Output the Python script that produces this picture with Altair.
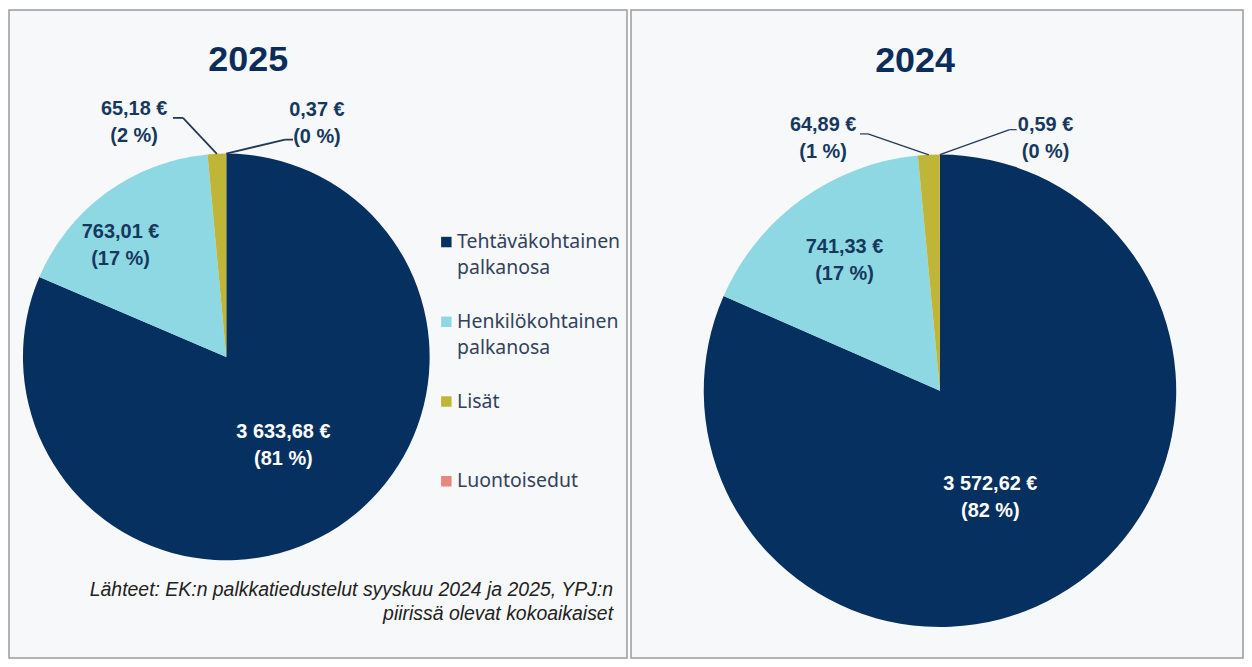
import altair as alt
import pandas as pd

# ---------------- data ----------------
categories = ["Tehtäväkohtainen palkanosa", "Henkilökohtainen palkanosa", "Lisät", "Luontoisedut"]
values_2025 = [3633.68, 763.01, 65.18, 0.37]
values_2024 = [3572.62, 741.33, 64.89, 0.59]
shares_2025 = [81, 17, 2, 0]
shares_2024 = [82, 17, 1, 0]
years = ["2025", "2024"]
source_lines = ["Lähteet: EK:n palkkatiedustelut  syyskuu 2024 ja 2025, YPJ:n",
                "piirissä olevat kokoaikaiset"]

# ---------------- style ----------------
colors = ["#06305f", "#8ed8e3", "#bfb536", "#e8857c"]
NAVY_TXT = "#16385e"
LINE_COL = "#233a56"


def fmt_eur(v):
    s = f"{v:,.2f}"
    return s.replace(",", "X").replace(".", ",").replace("X", " ") + " €"


def make_df(values, shares):
    return pd.DataFrame({
        "cat": categories,
        "idx": list(range(len(categories))),
        "value": values,
        "label": [f"{fmt_eur(v)}\n({s} %)" for v, s in zip(values, shares)],
    })


# label layout per panel (per category): radius fraction, offsets, callout geometry
layout_2025 = dict(w=620, h=650, cx=218, cy=348, r=204, tx=240, ty=50, lw=1.8,
                   rf=[0.51, 0.75, 1.0, 1.0], dx=[0, -16, -83, 91], dy=[-11, -2, -44.5, -44],
                   ex=[0, 0, -34, 59], ey=[0, 0, -36, -14], sx=[0, 0, -44, 67])
layout_2024 = dict(w=614, h=650, cx=310, cy=382, r=237, tx=285, ty=51, lw=1.2,
                   rf=[0.49, 0.69, 1.0, 1.0], dx=[-13, 0, -106, 106], dy=[-4, -12, -29.5, -29.5],
                   ex=[0, 0, -61, 70], ey=[0, 0, -21, -25], sx=[0, 0, -69, 77])


def arr(a):
    return "[" + ",".join(str(x) for x in a) + "][datum.idx]"


def panel(values, shares, year, L, legend):
    df = make_df(values, shares)
    cx, cy, r = L["cx"], L["cy"], L["r"]

    color = alt.Color("cat:N", scale=alt.Scale(domain=categories, range=colors),
                      legend=legend)
    arc = alt.Chart(df).mark_arc(outerRadius=r).encode(
        theta=alt.Theta("value:Q", stack=True),
        color=color,
        order=alt.Order("idx:Q"),
        x=alt.value(cx), y=alt.value(cy),
    )

    geo = alt.Chart(df).transform_joinaggregate(
        total="sum(value)"
    ).transform_window(
        cum="sum(value)", sort=[alt.SortField("idx", order="ascending")], frame=[None, 0]
    ).transform_calculate(
        mid="2*PI*(datum.cum - datum.value/2)/datum.total"
    ).transform_calculate(
        lx=f"{cx} + {arr(L['rf'])}*{r}*sin(datum.mid) + {arr(L['dx'])}",
        ly=f"{cy} - {arr(L['rf'])}*{r}*cos(datum.mid) + {arr(L['dy'])}",
        px=f"{cx} + {r}*sin(datum.mid)",
        py=f"{cy} - {r}*cos(datum.mid)",
    ).transform_calculate(
        bx=f"datum.px + {arr(L['ex'])}",
        by=f"datum.py + {arr(L['ey'])}",
        sx=f"datum.px + {arr(L['sx'])}",
    )

    X = lambda f: alt.X(f, scale=None, axis=None)
    Y = lambda f: alt.Y(f, scale=None, axis=None)

    txt_props = dict(lineBreak="\n", font="Liberation Sans", fontSize=20,
                     fontWeight="bold", lineHeight=27, align="center", baseline="middle")
    inner_white = geo.transform_filter("datum.idx == 0").mark_text(
        color="white", **txt_props).encode(x=X("lx:Q"), y=Y("ly:Q"), text="label:N")
    other_txt = geo.transform_filter("datum.idx > 0").mark_text(
        color=NAVY_TXT, **txt_props).encode(x=X("lx:Q"), y=Y("ly:Q"), text="label:N")

    lead1 = geo.transform_filter("datum.idx >= 2").mark_rule(
        color=LINE_COL, strokeWidth=L["lw"]).encode(
        x=X("px:Q"), y=Y("py:Q"), x2="bx:Q", y2="by:Q")
    lead2 = geo.transform_filter("datum.idx >= 2").mark_rule(
        color=LINE_COL, strokeWidth=L["lw"]).encode(
        x=X("bx:Q"), y=Y("by:Q"), x2="sx:Q", y2="by:Q")

    title = alt.Chart(pd.DataFrame({"t": [year]})).mark_text(
        font="Liberation Sans", fontSize=36, fontWeight="bold", color="#0c2d59",
        align="center", baseline="middle").encode(
        x=alt.value(L["tx"]), y=alt.value(L["ty"]), text="t:N")

    layers = [arc, lead1, lead2, inner_white, other_txt, title]
    return layers


legend = alt.Legend(
    title=None, orient="none", legendX=429, legendY=223,
    symbolType="square", symbolSize=110, symbolStrokeWidth=0,
    labelFont="Noto Sans", labelFontSize=19.5, labelColor="#33425c",
    labelLimit=400, rowPadding=33, labelBaseline="middle", labelOffset=1,
    labelExpr="indexof(datum.label, ' ') > 0 ? split(datum.label, ' ') : [datum.label, ' ']",
)

left_layers = panel(values_2025, shares_2025, years[0], layout_2025, legend)
source = alt.Chart(pd.DataFrame({"t": ["\n".join(source_lines)]})).mark_text(
    lineBreak="\n", font="Liberation Sans", fontStyle="italic", fontSize=19.5,
    color="#222222", lineHeight=24, align="right", baseline="middle").encode(
    x=alt.value(606), y=alt.value(582), text="t:N")
left = alt.layer(*left_layers, source).properties(
    width=layout_2025["w"], height=layout_2025["h"])

right_layers = panel(values_2024, shares_2024, years[1], layout_2024, None)
right = alt.layer(*right_layers).properties(
    width=layout_2024["w"], height=layout_2024["h"])

chart = alt.hconcat(left, right, spacing=2).resolve_scale(
    color="independent").resolve_legend(color="independent").configure(
    style={"guide-label": {"lineHeight": 26}}).configure_view(
    fill="#f7f8fa", stroke="#9b9b9b", strokeWidth=1.5).properties(padding=0)

chart.save("out.html", embed_options={"renderer": "svg", "actions": False})
